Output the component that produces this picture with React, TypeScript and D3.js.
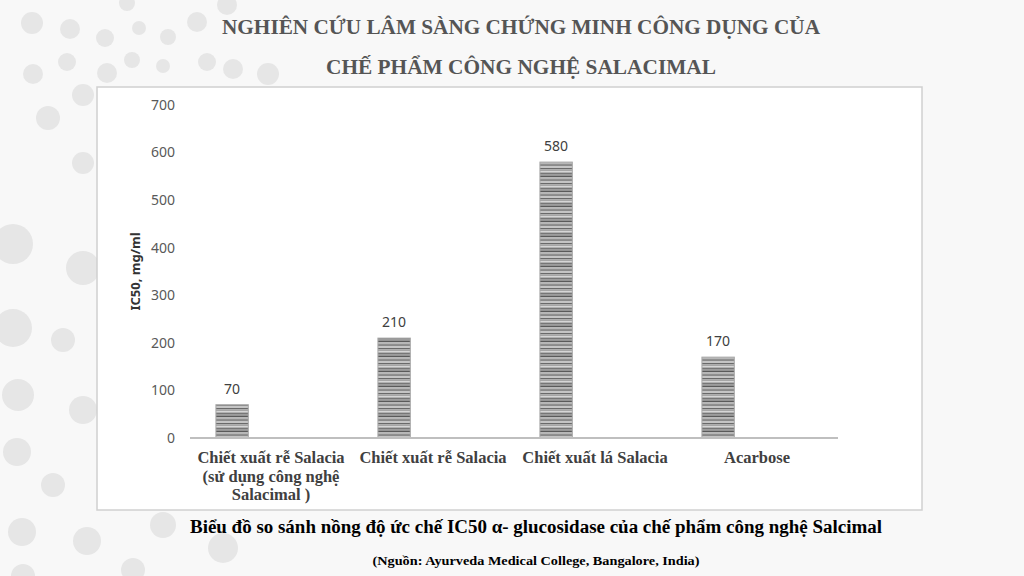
import React from 'react';
import * as d3 from 'd3';

// Chart values
const categories = ['cat1', 'cat2', 'cat3', 'cat4'];
const categoryLabels = [
  ['Chiết xuất rễ Salacia', '(sử dụng  công nghệ', 'Salacimal )'],
  ['Chiết xuất rễ Salacia'],
  ['Chiết xuất lá Salacia'],
  ['Acarbose'],
];
const ic50Values = [70, 210, 580, 170];
const yTicks = [0, 100, 200, 300, 400, 500, 600, 700];

const titleLines = ['NGHIÊN CỨU LÂM SÀNG CHỨNG MINH CÔNG DỤNG CỦA', 'CHẾ PHẨM CÔNG NGHỆ SALACIMAL'];
const captionText = 'Biểu đồ so sánh nồng độ ức chế IC50 α- glucosidase của chế phẩm công nghệ Salcimal';
const sourceText = '(Nguồn: Ayurveda Medical College, Bangalore, India)';

// decorative background dots [x, y, r]
const bgDots: [number, number, number][] = [
  [32, 23, 11], [70, 29, 10], [105, 38, 9], [139, 28, 7], [168, 37, 8], [197, 22, 10], [227, 5, 10], [127, 3, 8],
  [33, 74, 10], [67, 62, 9], [107, 73, 10], [132, 60, 8], [163, 66, 7], [207, 62, 9], [233, 69, 10], [268, 74, 11],
  [83, 95, 11], [48, 118, 12], [83, 163, 11], [13, 244, 20], [83, 268, 17],
  [13, 328, 19], [63, 340, 12], [18, 395, 16], [83, 410, 14], [17, 452, 14], [53, 485, 12],
  [22, 532, 14], [87, 541, 14], [163, 525, 13], [223, 548, 15], [23, 576, 12], [133, 570, 12],
];

const W = 1024;
const H = 576;

export default function App() {
  const x = d3.scaleBand<string>().domain(categories).range([190, 838]).paddingInner(0).paddingOuter(0);
  const y = d3.scaleLinear().domain([0, 700]).range([438, 105]);
  const bw = x.bandwidth();
  const barOffset = bw * 0.16;
  const barWidth = bw * 0.2;

  const stripes = ['#8a8a8a', '#c4c4c4', '#6a6a6a', '#a6a6a6', '#d6d6d6', '#777777', '#9c9c9c', '#5a5a5a', '#b8b8b8', '#8f8f8f'];

  return (
    <svg width={W} height={H} style={{ position: 'fixed', left: 0, top: 0 }}>
      <defs>
        <pattern id="hstripe" patternUnits="userSpaceOnUse" width={8} height={stripes.length * 1.5}>
          {stripes.map((c, i) => (
            <rect key={i} x={0} y={i * 1.5} width={8} height={1.5} fill={c} />
          ))}
        </pattern>
      </defs>
      <rect width={W} height={H} fill="#f8f8f8" />
      {bgDots.map(([cx, cy, r], i) => (
        <circle key={i} cx={cx} cy={cy} r={r} fill="#e6e6e6" />
      ))}

      {/* titles */}
      <g fontFamily="'Liberation Serif', 'Times New Roman', serif" fontWeight="bold" fill="#555" textAnchor="middle">
        <text x={521} y={34} fontSize={21} textLength={598} lengthAdjust="spacingAndGlyphs">{titleLines[0]}</text>
        <text x={521} y={74} fontSize={21} textLength={390} lengthAdjust="spacingAndGlyphs">{titleLines[1]}</text>
      </g>

      {/* chart box */}
      <rect x={97} y={87} width={825} height={423} fill="#fff" stroke="#d0d0d0" strokeWidth={1.5} />

      {/* y tick labels */}
      <g fontFamily="'Noto Sans', 'Open Sans', sans-serif" fontSize={14} fill="#595959" textAnchor="end">
        {yTicks.map(t => (
          <text key={t} x={175} y={y(t)} dy="0.35em">{t}</text>
        ))}
      </g>
      <text
        transform={`translate(140, ${y(350)}) rotate(-90)`}
        textAnchor="middle"
        fontFamily="'Noto Sans', 'Open Sans', sans-serif"
        fontSize={13}
        fontWeight="bold"
        fill="#333"
      >IC50, mg/ml</text>

      {/* bars */}
      {categories.map((c, i) => (
        <g key={c}>
          <rect
            x={(x(c) ?? 0) + barOffset}
            y={y(ic50Values[i])}
            width={barWidth}
            height={y(0) - y(ic50Values[i])}
            fill="url(#hstripe)"
            stroke="#a8a8a8"
            strokeWidth={1}
          />
          <text
            x={(x(c) ?? 0) + barOffset + barWidth / 2}
            y={y(ic50Values[i]) - 11}
            textAnchor="middle"
            fontFamily="'Noto Sans', 'Open Sans', sans-serif"
            fontSize={14}
            fill="#404040"
          >{ic50Values[i]}</text>
        </g>
      ))}

      {/* x axis line */}
      <line x1={190} x2={838} y1={y(0)} y2={y(0)} stroke="#bfbfbf" strokeWidth={2} />

      {/* category labels */}
      <g fontFamily="'Liberation Serif', 'Times New Roman', serif" fontWeight="bold" fontSize={16.5} fill="#404040" textAnchor="middle">
        {categories.map((c, i) => (
          <text key={c} x={(x(c) ?? 0) + bw / 2} y={463}>
            {categoryLabels[i].map((line, j) => (
              <tspan key={j} x={(x(c) ?? 0) + bw / 2} dy={j === 0 ? 0 : 18.5}>{line}</tspan>
            ))}
          </text>
        ))}
      </g>

      {/* caption */}
      <g fontFamily="'Liberation Serif', 'Times New Roman', serif" fontWeight="bold" fill="#000" textAnchor="middle">
        <text x={536} y={533} fontSize={18} textLength={692} lengthAdjust="spacingAndGlyphs">{captionText}</text>
        <text x={536} y={565} fontSize={13} textLength={327} lengthAdjust="spacingAndGlyphs">{sourceText}</text>
      </g>
    </svg>
  );
}
